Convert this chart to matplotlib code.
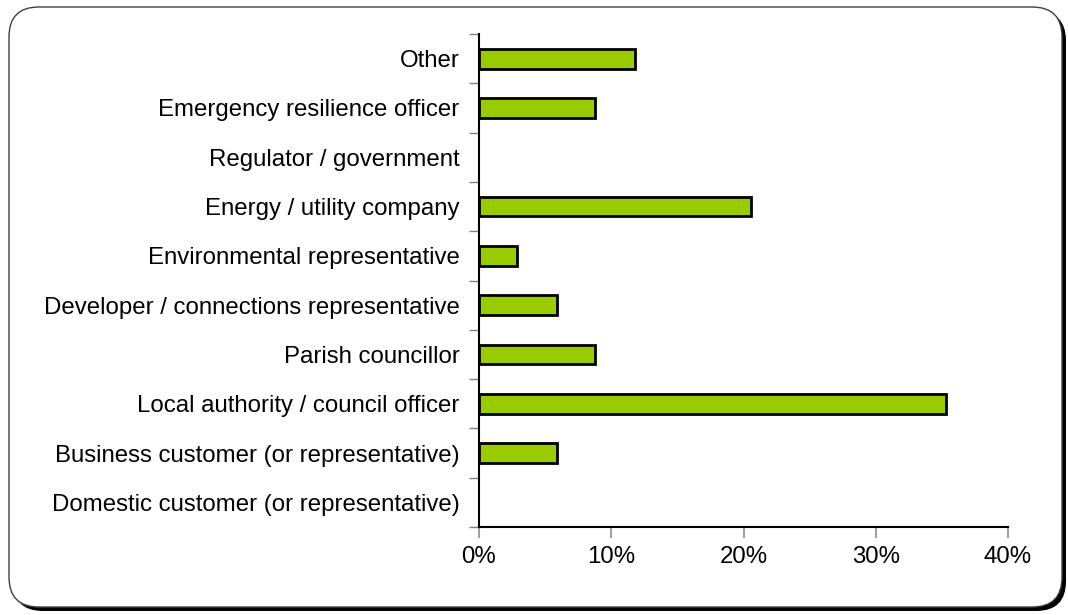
import matplotlib
matplotlib.use('Agg')
import matplotlib.pyplot as plt
from matplotlib.patches import FancyBboxPatch
from matplotlib.ticker import FixedLocator, PercentFormatter

categories = [
    'Domestic customer (or representative)',
    'Business customer (or representative)',
    'Local authority / council officer',
    'Parish councillor',
    'Developer / connections representative',
    'Environmental representative',
    'Energy / utility company',
    'Regulator / government',
    'Emergency resilience officer',
    'Other',
]
shares = [0.0, 5.9, 35.3, 8.8, 5.9, 2.9, 20.6, 0.0, 8.8, 11.8]

plt.rcParams['font.family'] = ['Liberation Sans', 'DejaVu Sans']

fig = plt.figure(figsize=(10.68, 6.15), dpi=100)

# rounded frame with a drop shadow
W, H = 1068, 615
def fbox(x0, y0, x1, y1, **kw):
    return FancyBboxPatch((x0 / W, 1 - y1 / H), (x1 - x0) / W, (y1 - y0) / H,
                          boxstyle='round,pad=0,rounding_size=0.028',
                          transform=fig.transFigure, mutation_aspect=W / H, **kw)
fig.patches.append(fbox(13, 11, 1066, 611, facecolor='black', edgecolor='none', zorder=0))
fig.patches.append(fbox(9, 7, 1062, 607, facecolor='white', edgecolor='#404040', linewidth=1.0, zorder=1))

ax = fig.add_axes([479 / W, 1 - 527 / H, (1008 - 479) / W, (527 - 34) / H])
ax.set_zorder(2)
ax.set_facecolor('none')
ax.barh(range(len(categories)), shares, height=0.4, color='#99CC00',
        edgecolor='black', linewidth=[2 if v > 0 else 0 for v in shares], zorder=3)

ax.set_xlim(0, 40)
ax.set_ylim(-0.5, len(categories) - 0.5)
ax.xaxis.set_major_locator(FixedLocator([0, 10, 20, 30, 40]))
ax.xaxis.set_major_formatter(PercentFormatter(decimals=0))
ax.set_yticks(range(len(categories)))
ax.set_yticklabels(categories)
ax.yaxis.set_minor_locator(FixedLocator([i - 0.5 for i in range(len(categories) + 1)]))

for s in ['top', 'right']:
    ax.spines[s].set_visible(False)
ax.spines['left'].set_linewidth(1.5)
ax.spines['bottom'].set_linewidth(1.5)

ax.tick_params(axis='y', which='major', length=0, pad=14, labelsize=17.3)
ax.tick_params(axis='y', which='minor', length=7, width=1, color='#808080')
ax.tick_params(axis='x', length=8, width=1.5, color='#A0A0A0', labelsize=17.3, pad=6)

fig.savefig('out.png', dpi=100)
